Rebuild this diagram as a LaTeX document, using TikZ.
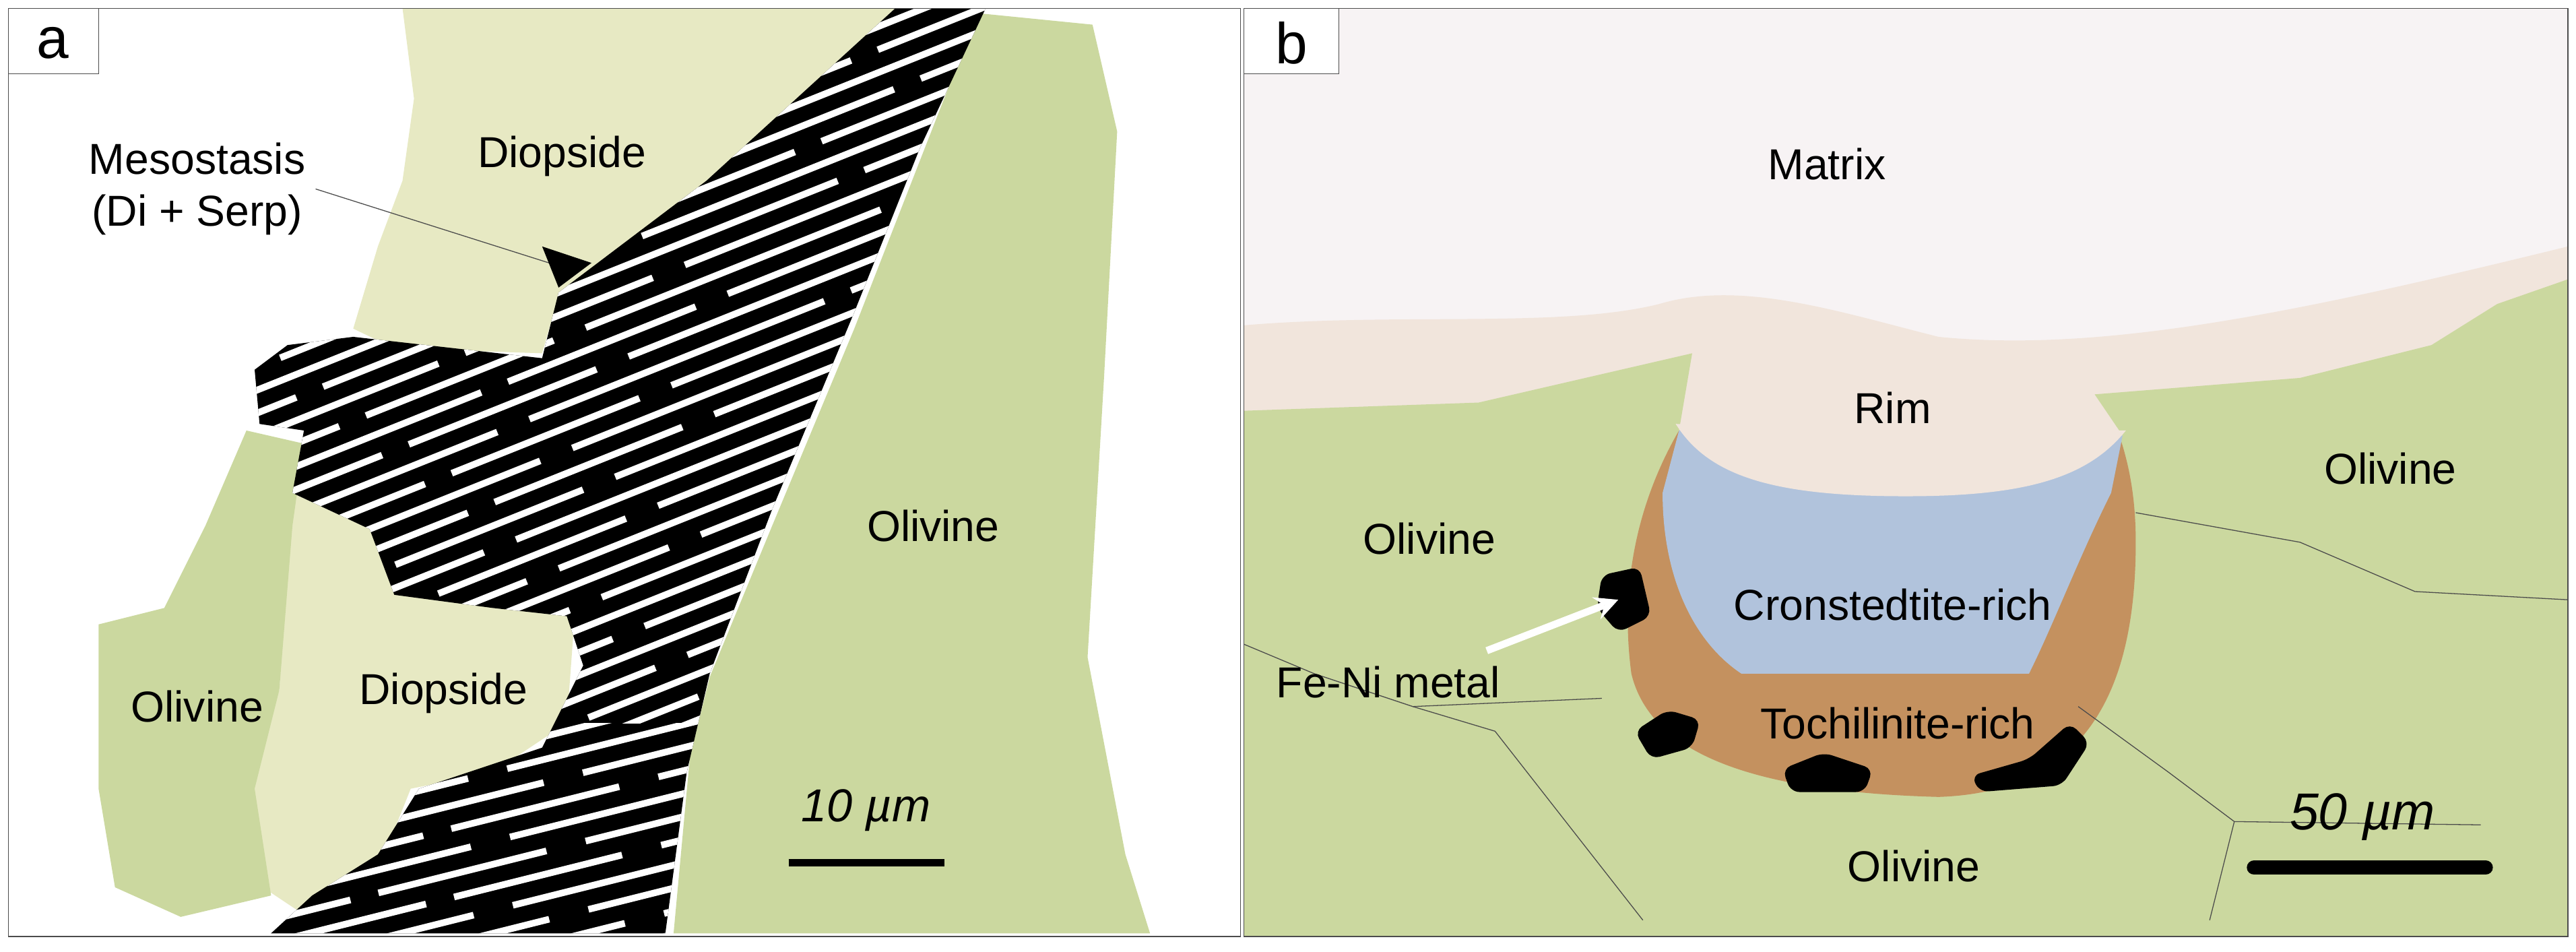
\documentclass[tikz,border=0pt]{standalone}
\usepackage{fontspec}
\setmainfont{Liberation Sans}
\begin{document}
\begin{tikzpicture}[x=0.02cm,y=-0.02cm,
  lbl/.style={font=\fontsize{15}{18}\selectfont},
  dio/.style={fill=dioC}, oli/.style={fill=oliC},
  thin/.style={draw=black!70,line width=0.3pt}]
\definecolor{dioC}{HTML}{E7E9C3}
\definecolor{oliC}{HTML}{CBD89F}
\definecolor{matC}{HTML}{F7F3F4}
\definecolor{rimC}{HTML}{F1E5DC}
\definecolor{tochC}{HTML}{C4915F}
\definecolor{cronC}{HTML}{B1C3DC}
\useasboundingbox (0,0) rectangle (1568,579);
% ---------- panel a ----------
\fill[dio] (245,5) -- (545,5) -- (430,110) -- (340,180) -- (330,215) -- (240,212) -- (215,200) -- (230,150) -- (245,110) -- (252,60) -- cycle;
\fill[dio] (178,300) -- (225,322) -- (240,360) -- (300,368) -- (350,372) -- (345,440) -- (300,470) -- (250,480) -- (230,530) -- (190,560) -- (160,540) -- (150,480) -- (170,420) -- cycle;
\fill[oli] (150,262) -- (185,270) -- (178,320) -- (170,420) -- (155,480) -- (165,545) -- (110,558) -- (70,540) -- (60,480) -- (60,380) -- (100,370) -- (125,320) -- cycle;
\fill[oli] (595,8) -- (665,15) -- (680,80) -- (672,230) -- (662,400) -- (685,520) -- (700,568) -- (410,568) -- (420,460) -- (432,412) -- (470,320) -- (520,200) -- cycle;
\def\meso{(545,5) -- (600,5) -- (560,90) -- (520,190) -- (470,310) -- (432,410) -- (418,470) -- (405,568) -- (165,568) -- (190,545) -- (230,520) -- (255,480) -- (330,455) -- (355,405) -- (345,375) -- (300,370) -- (240,362) -- (225,322) -- (178,300) -- (185,262) -- (158,258) -- (155,225) -- (175,210) -- (215,205) -- (330,218) -- (340,178) -- (430,110) -- cycle}
\fill[black] \meso;
\begin{scope}
\clip \meso;
\begin{scope}
\clip (100,0) rectangle (760,440);
\foreach \k [evaluate=\k as \ph using {mod(\k*37,90)}] in {0,...,50}{
  \draw[white,line width=2.3pt,dash pattern=on 110 off 10 on 70 off 12,dash phase=\ph] (120,\k*14) -- ++(600,-240);
}
\end{scope}
\begin{scope}
\clip (100,440) rectangle (760,580);
\foreach \k [evaluate=\k as \ph using {mod(\k*53,80)}] in {0,...,30}{
  \draw[white,line width=2.3pt,dash pattern=on 90 off 10 on 60 off 14,dash phase=\ph] (140,300+\k*14) -- ++(600,-150);
}
\end{scope}
\end{scope}
\draw[thin] (5,5) rectangle (755,570);
\draw[thin,fill=white] (5,5) rectangle (60,45);
\node[lbl,font=\fontsize{20}{24}\selectfont] (la) at (32,26) {a};
\node[lbl,align=center] (meso) at (120,115) {Mesostasis\\(Di + Serp)};
\coordinate (mt) at (350,165);
\draw[thin] (meso.east) -- (mt);
\fill (330,150) -- (360,160) -- (340,175) -- cycle;
\node[lbl] (d1) at (342,95) {Diopside};
\node[lbl] (d2) at (270,422) {Diopside};
\node[lbl] (o1) at (120,430) {Olivine};
\node[lbl] (o2) at (568,320) {Olivine};
\node[lbl,font=\fontsize{16}{19}\selectfont\itshape] (s1) at (527,493) {10 µm};
\draw[line width=2.5pt] (480,525) -- (575,525);
% ---------- panel b ----------
\fill[matC] (757,5) rectangle (1563,570);
\fill[rimC] (757,198) .. controls (850,190) and (950,200) .. (1010,185) .. controls (1060,170) and (1120,190) .. (1180,205) .. controls (1280,215) and (1400,190) .. (1563,150) -- (1563,330) -- (757,330) -- cycle;
\fill[oliC] (757,250) -- (900,245) -- (1030,215) -- (1022,262) -- (1292,265) -- (1275,240) -- (1400,230) -- (1480,210) -- (1520,185) -- (1563,170) -- (1563,570) -- (757,570) -- cycle;
\fill[tochC] (1022,262) .. controls (1000,300) and (985,350) .. (993,410) .. controls (1005,460) and (1070,482) .. (1180,485) .. controls (1270,482) and (1300,420) .. (1300,330) .. controls (1300,300) and (1295,280) .. (1290,265) -- cycle;
\fill[cronC] (1022,262) -- (1292,265) -- (1285,300) .. controls (1265,340) and (1250,380) .. (1235,410) -- (1060,410) .. controls (1030,390) and (1012,350) .. (1012,300) -- cycle;
\fill[rimC] (1020,258) .. controls (1040,290) and (1080,302) .. (1160,302) .. controls (1230,302) and (1270,292) .. (1294,262) -- cycle;
\fill[black,rounded corners=3pt] (975,350) -- (998,345) -- (1005,375) -- (985,385) -- (972,370) -- cycle;
\fill[black,rounded corners=3pt] (995,445) -- (1015,432) -- (1035,438) -- (1030,455) -- (1005,462) -- cycle;
\fill[black,rounded corners=3pt] (1085,468) -- (1110,458) -- (1140,468) -- (1135,482) -- (1090,482) -- cycle;
\fill[black,rounded corners=3pt] (1200,472) -- (1235,462) -- (1260,440) -- (1272,452) -- (1255,478) -- (1205,482) -- cycle;
\draw[thin] (757,392) -- (800,410) -- (860,430) -- (975,425);
\draw[thin] (860,430) -- (910,445) -- (1000,560);
\draw[thin] (1300,312) -- (1400,330) -- (1470,360) -- (1563,365);
\draw[thin] (1265,430) -- (1320,470) -- (1360,500) -- (1510,502);
\draw[thin] (1360,500) -- (1345,560);
\draw[thin] (757,5) rectangle (1563,570);
\draw[thin,fill=white] (757,5) rectangle (815,45);
\node[lbl,font=\fontsize{20}{24}\selectfont] (lb) at (786,26) {b};
\node[lbl] (mx) at (1112,100) {Matrix};
\node[lbl] (rim) at (1152,248) {Rim};
\node[lbl] (o3) at (870,328) {Olivine};
\node[lbl] (o4) at (1455,285) {Olivine};
\node[lbl] (o5) at (1165,527) {Olivine};
\node[lbl] (cr) at (1152,368) {Cronstedtite-rich};
\node[lbl] (to) at (1155,440) {Tochilinite-rich};
\node[lbl] (fe) at (845,415) {Fe-Ni metal};
\coordinate (ft) at (985,365);
\draw[white,line width=2.5pt,-{stealth}] (905,396) -- (ft);
\node[lbl,font=\fontsize{18}{22}\selectfont\itshape] (s2) at (1438,497) {50 µm};
\draw[line width=5pt,line cap=round] (1372,528) -- (1513,528);
\end{tikzpicture}
\end{document}
